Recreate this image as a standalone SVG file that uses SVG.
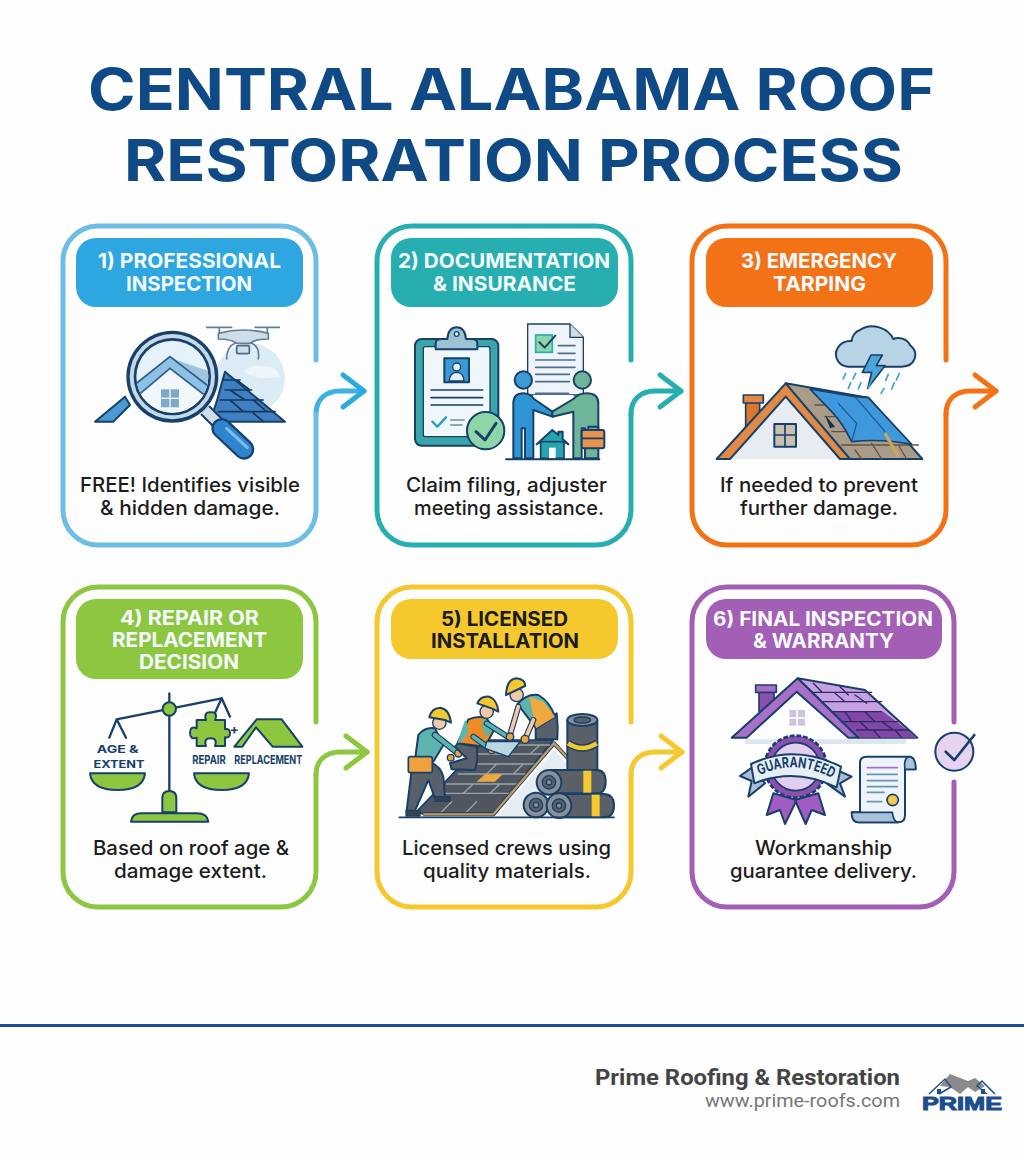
<svg xmlns="http://www.w3.org/2000/svg" width="1024" height="1154" viewBox="0 0 1024 1154">
<style>
.title{font-family:"Inter","Liberation Sans",sans-serif;font-weight:700;font-size:58px;fill:#0f4a87;text-anchor:middle}
.hd{font-family:"Inter","Liberation Sans",sans-serif;font-weight:700;font-size:20.5px;fill:#f4fbff;text-anchor:middle}
.hs{font-size:19.5px}
.bd{font-family:"Inter","Liberation Sans",sans-serif;font-weight:500;font-size:20px;fill:#1c1c1c;text-anchor:middle}
.card{fill:none;stroke-width:5;stroke-linecap:round}
.conn{fill:none;stroke-width:5;stroke-linecap:round}
.n{stroke:#17406b;stroke-width:6;stroke-linejoin:round;stroke-linecap:round}
.l{fill:none;stroke:#17406b;stroke-width:5;stroke-linecap:round;stroke-linejoin:round}
.lab{font-family:"Inter","Liberation Sans",sans-serif;font-weight:700;fill:#17406b;text-anchor:middle}
</style>
<defs>
<marker id="a1" markerUnits="userSpaceOnUse" viewBox="-26 -20 30 40" refX="0" refY="0" markerWidth="30" markerHeight="40" orient="auto"><path d="M-21,-16 L0,0 L-21,16" fill="none" stroke="#29abe2" stroke-width="5" stroke-linecap="round" stroke-linejoin="round"/></marker>
<marker id="a2" markerUnits="userSpaceOnUse" viewBox="-26 -20 30 40" refX="0" refY="0" markerWidth="30" markerHeight="40" orient="auto"><path d="M-21,-16 L0,0 L-21,16" fill="none" stroke="#26aeb0" stroke-width="5" stroke-linecap="round" stroke-linejoin="round"/></marker>
<marker id="a3" markerUnits="userSpaceOnUse" viewBox="-26 -20 30 40" refX="0" refY="0" markerWidth="30" markerHeight="40" orient="auto"><path d="M-21,-16 L0,0 L-21,16" fill="none" stroke="#f47216" stroke-width="5" stroke-linecap="round" stroke-linejoin="round"/></marker>
<marker id="a4" markerUnits="userSpaceOnUse" viewBox="-26 -20 30 40" refX="0" refY="0" markerWidth="30" markerHeight="40" orient="auto"><path d="M-21,-16 L0,0 L-21,16" fill="none" stroke="#8dc63f" stroke-width="5" stroke-linecap="round" stroke-linejoin="round"/></marker>
<marker id="a5" markerUnits="userSpaceOnUse" viewBox="-26 -20 30 40" refX="0" refY="0" markerWidth="30" markerHeight="40" orient="auto"><path d="M-21,-16 L0,0 L-21,16" fill="none" stroke="#f5c92e" stroke-width="5" stroke-linecap="round" stroke-linejoin="round"/></marker>
<clipPath id="lens"><circle cx="367" cy="485" r="108"/></clipPath>
<path id="banner" d="M215,590 Q330,530 450,600"/>
</defs>
<rect width="1024" height="1154" fill="#fefefe"/>
<g id="title">
<text class="title" x="511.5" y="110" textLength="847" lengthAdjust="spacingAndGlyphs">CENTRAL ALABAMA ROOF</text>
<text class="title" x="513.5" y="181" textLength="779" lengthAdjust="spacingAndGlyphs">RESTORATION PROCESS</text>
</g>

<g id="connectors">
<path class="conn" stroke="#3fb0e4" d="M316,414 C316,400 325,391 340,391 H364" marker-end="url(#a1)"/>
<path class="conn" stroke="#26aeb0" d="M631,414 C631,400 640,391 655,391 H681" marker-end="url(#a2)"/>
<path class="conn" stroke="#f47216" d="M946,414 C946,400 955,391 970,391 H996" marker-end="url(#a3)"/>
<path class="conn" stroke="#8dc63f" d="M316,775 C316,761 325,752 340,752 H367" marker-end="url(#a4)"/>
<path class="conn" stroke="#f5c92e" d="M631,775 C631,761 640,752 655,752 H682" marker-end="url(#a5)"/>
</g>

<g id="node1">
<path class="card" stroke="#6dbde6" d="M316,360 V261 A35,35 0 0 0 281,226 H98 A35,35 0 0 0 63,261 V510 A35,35 0 0 0 98,545 H281 A35,35 0 0 0 316,510 V414"/>
<rect x="76" y="238" width="227" height="69" rx="20" fill="#2ea6e0"/>
<text class="hd" x="189.5" y="268" textLength="183" lengthAdjust="spacingAndGlyphs">1) PROFESSIONAL</text>
<text class="hd" x="189" y="291" textLength="126" lengthAdjust="spacingAndGlyphs">INSPECTION</text>
<g transform="translate(50 215) scale(.33333)">
<circle cx="600" cy="490" r="105" fill="#dcecf6"/>
<path d="M580,470 q30,-25 60,-15 q40,-5 50,30 q-60,15 -110,-15z" fill="#eef6fb"/>
<g class="l" style="stroke:#5f7f99;stroke-width:5"><path d="M470,337 H545 M615,337 H688 M508,337 V370 M652,337 V370 M530,432 Q530,395 555,385 M625,432 Q630,395 605,385"/></g>
<path d="M505,355 Q580,335 655,355 L655,372 Q615,372 600,385 H560 Q545,372 505,372Z" fill="#cfdde8" stroke="#5f7f99" stroke-width="5"/>
<rect x="560" y="392" width="38" height="24" rx="5" fill="#cfdde8" stroke="#4a6a85" stroke-width="5"/>
<path d="M525,470 L705,620 H480 L500,560Z" fill="#3f7fc1" class="n"/>
<path d="M520,495 H570 M525,525 H605 M510,555 H640 M505,590 H675 M560,495 L600,525 M540,525 L585,555 M610,555 L650,590 M540,555 L580,590 M605,590 L640,620" class="l" style="stroke:#12385f;stroke-width:5"/>
<path d="M135,620 L225,545 L240,570 L190,620Z" fill="#4a9ad4" class="n"/>
<path d="M465,585 L510,630" stroke="#17406b" stroke-width="40"/>
<path d="M465,585 L510,630" stroke="#cfdde8" stroke-width="28"/>
<path d="M515,640 L582,703" stroke="#17406b" stroke-width="62" stroke-linecap="round"/>
<path d="M515,640 L582,703" stroke="#2f84d0" stroke-width="48" stroke-linecap="round"/>
<path d="M530,640 L592,698" stroke="#79bdec" stroke-width="9" stroke-linecap="round"/>
<circle cx="367" cy="485" r="138" fill="#17406b"/>
<circle cx="367" cy="485" r="128" fill="#c5d8e6"/>
<circle cx="367" cy="485" r="116" fill="#17406b"/>
<circle cx="367" cy="485" r="108" fill="#e6f2fa"/>
<g clip-path="url(#lens)">
<path d="M270,530 L360,450 L460,530 V600 H270Z" fill="#f2f7fb"/>
<path d="M360,428 L480,470 L510,530 L440,500Z" fill="#9fc4de"/>
<path d="M240,520 L360,425 L490,525 L470,545 L360,460 L260,545Z" fill="#8ec1e4" stroke="#2a5f8f" stroke-width="5"/>
<rect x="333" y="523" width="25" height="25" fill="#7ea9c8"/><rect x="362" y="523" width="25" height="25" fill="#7ea9c8"/><rect x="333" y="552" width="25" height="25" fill="#7ea9c8"/><rect x="362" y="552" width="25" height="25" fill="#7ea9c8"/>
</g>
</g>
<text class="bd" x="190" y="492" textLength="220" lengthAdjust="spacingAndGlyphs">FREE! Identifies visible</text>
<text class="bd" x="190" y="515" textLength="180" lengthAdjust="spacingAndGlyphs">&amp; hidden damage.</text>
</g>

<g id="node2">
<path class="card" stroke="#26aeb0" d="M631,360 V261 A35,35 0 0 0 596,226 H412 A35,35 0 0 0 377,261 V510 A35,35 0 0 0 412,545 H596 A35,35 0 0 0 631,510 V414"/>
<rect x="391" y="238" width="227" height="69" rx="20" fill="#26aeb0"/>
<text class="hd" x="504" y="268" textLength="212" lengthAdjust="spacingAndGlyphs">2) DOCUMENTATION</text>
<text class="hd" x="504.5" y="291" textLength="143" lengthAdjust="spacingAndGlyphs">&amp; INSURANCE</text>
<g transform="translate(370 215) scale(.33333)">
<rect x="135" y="372" width="250" height="320" rx="20" fill="#3aa5ab" class="n"/>
<rect x="160" y="395" width="200" height="270" rx="6" fill="#f0f7fa" class="n" style="stroke-width:4"/>
<path d="M197,403 V385 Q197,372 215,372 H232 Q235,337 260,337 Q285,337 288,372 H305 Q322,372 322,385 V403Z" fill="#9cc3d4" class="n"/>
<circle cx="260" cy="357" r="7" fill="#f0f7fa" class="n" style="stroke-width:4"/>
<rect x="223" y="430" width="74" height="72" fill="#3a9ad4" class="n"/>
<circle cx="260" cy="456" r="12" fill="#dff0f8" stroke="#17406b" stroke-width="4"/>
<path d="M238,498 Q240,472 260,472 Q280,472 282,498Z" fill="#dff0f8" stroke="#17406b" stroke-width="4"/>
<path d="M183,525 H338 M183,548 H338 M183,570 H338" class="l"/>
<path d="M187,620 L202,635 L228,607" class="l" style="stroke:#2a9fc0;stroke-width:7"/>
<path d="M243,615 H282 M243,630 H275" class="l" style="stroke:#8aa9bd;stroke-width:6"/>
<circle cx="347" cy="647" r="56" fill="#8ed6a8" class="n"/>
<path d="M318,650 L345,675 L378,625" class="l" style="stroke-width:9"/>
<path d="M473,327 H600 L640,367 V540 H473Z" fill="#eef4f9" stroke="#17406b" stroke-width="4" stroke-linejoin="round"/>
<path d="M600,327 V367 H640" fill="#cfdde8" stroke="#17406b" stroke-width="4"/>
<rect x="497" y="360" width="50" height="52" fill="#8ed6a8" stroke="#26aeb0" stroke-width="5"/>
<path d="M508,382 L524,398 L556,362" class="l" style="stroke-width:6"/>
<path d="M565,392 H615 M565,415 H615 M497,435 H615 M497,457 H615 M497,478 H598 M497,500 H598 M497,535 H595" class="l" style="stroke:#4f6f8f;stroke-width:5"/>
<rect x="490" y="540" width="120" height="195" fill="#fefefe"/>
<circle cx="460" cy="495" r="26" fill="#3a9ad4" class="n"/>
<path d="M430,730 V565 Q430,535 460,535 Q480,535 492,552 L547,590 V605 L490,585 V730 H465 V640 H455 V730Z" fill="#2f95d4" class="n"/>
<circle cx="637" cy="495" r="26" fill="#6fb59a" class="n"/>
<path d="M685,730 V565 Q685,535 650,535 Q625,535 610,552 L547,590 V605 L610,590 V730 H635 V640 H645 V730Z" fill="#6fb59a" class="n"/>
<path d="M500,688 L547,645 L565,660 V650 H578 V672 L595,688" fill="#26a5ae" class="n"/>
<rect x="512" y="680" width="70" height="50" fill="#26a5ae" stroke="#17406b" stroke-width="5"/>
<rect x="537" y="698" width="20" height="32" fill="#fefefe"/>
<path d="M655,645 V635 H685 V645" fill="none" class="n"/>
<rect x="635" y="645" width="68" height="55" rx="6" fill="#e8924c" class="n"/>
<path d="M636,670 H702" class="l"/>
<path d="M408,733 H688" class="l" style="stroke-width:6"/>
</g>
<text class="bd" x="506.5" y="492" textLength="201" lengthAdjust="spacingAndGlyphs">Claim filing, adjuster</text>
<text class="bd" x="509" y="515" textLength="190" lengthAdjust="spacingAndGlyphs">meeting assistance.</text>
</g>

<g id="node3">
<path class="card" stroke="#f47216" d="M946,360 V261 A35,35 0 0 0 911,226 H727 A35,35 0 0 0 692,261 V510 A35,35 0 0 0 727,545 H911 A35,35 0 0 0 946,510 V414"/>
<rect x="706" y="238" width="227" height="69" rx="20" fill="#f47216"/>
<text class="hd" x="819" y="268" textLength="156" lengthAdjust="spacingAndGlyphs">3) EMERGENCY</text>
<text class="hd" x="819.5" y="291" textLength="93" lengthAdjust="spacingAndGlyphs">TARPING</text>
<g transform="translate(685 215) scale(.33333)">
<path d="M490,455 H650 C690,455 705,415 675,390 C665,370 640,365 625,372 C610,340 560,320 525,345 C510,350 500,365 500,378 C465,375 440,410 460,440 C468,450 478,455 490,455Z" fill="#b8d3e4" class="n"/>
<path d="M558,420 H592 L574,452 H600 L548,520 L560,472 H532Z" fill="#4aa7d8" class="n" style="stroke-width:5"/>
<path d="M482,475 L474,492 M512,475 L504,492 M497,503 L490,520 M528,503 L520,522 M610,478 L602,496 M643,475 L634,495 M628,503 L620,522 M597,520 L588,535 M558,500 L550,518" class="l" style="stroke:#3aa3d0;stroke-width:5"/>
<rect x="182" y="562" width="42" height="75" fill="#d9772e" class="n" style="stroke-width:5"/>
<rect x="175" y="540" width="60" height="24" fill="#e08a45" class="n" style="stroke-width:5"/>
<path d="M302,505 L550,548 L712,732 H470Z" fill="#a99c88" class="n"/>
<path d="M390,570 H460 M420,605 H520 M440,650 H570 M470,690 H700 M510,705 L530,732 M560,685 L590,732 M640,690 L665,732" class="l" style="stroke:#5f5445;stroke-width:4"/>
<path d="M375,522 L510,545 L550,548 L680,688 Q590,670 500,680 Q470,620 440,590Z" fill="#3f97dc" class="n" style="stroke-width:5"/>
<path d="M510,545 L600,650 M460,565 L515,625 L500,680" class="l" style="stroke:#1c5a92;stroke-width:4"/>
<path d="M420,600 L450,635 L435,640Z" fill="#17304a"/>
<path d="M600,655 L640,725" stroke="#c9a75a" stroke-width="10"/>
<path d="M135,732 L302,545 L465,732Z" fill="#e6ecf2"/>
<path d="M95,732 L302,505 L495,732 H465 L302,545 L135,732Z" fill="#e08a45" class="n"/>
<rect x="268" y="627" width="65" height="68" fill="#c9bfae" class="n"/>
<path d="M300,627 V695 M268,660 H333" class="l"/>
</g>
<text class="bd" x="819" y="492" textLength="198" lengthAdjust="spacingAndGlyphs">If needed to prevent</text>
<text class="bd" x="819" y="515" textLength="158" lengthAdjust="spacingAndGlyphs">further damage.</text>
</g>

<g id="node4">
<path class="card" stroke="#8dc63f" d="M316,722 V622 A35,35 0 0 0 281,587 H98 A35,35 0 0 0 63,622 V872 A35,35 0 0 0 98,907 H281 A35,35 0 0 0 316,872 V775"/>
<rect x="76" y="599" width="227" height="80" rx="20" fill="#8dc63f"/>
<text class="hd hs" x="189.5" y="625" textLength="139" lengthAdjust="spacingAndGlyphs">4) REPAIR OR</text>
<text class="hd hs" x="189.5" y="647" textLength="155" lengthAdjust="spacingAndGlyphs">REPLACEMENT</text>
<text class="hd hs" x="189" y="669" textLength="100" lengthAdjust="spacingAndGlyphs">DECISION</text>
<g transform="translate(50 580) scale(.33333)">
<path d="M358,340 V640 M200,418 L515,355 M200,418 L178,473 M200,418 L228,473 M515,355 L540,410 M515,355 L495,398" class="l" style="stroke-width:7"/>
<circle cx="358" cy="387" r="20" fill="#8dc63f" class="n"/>
<text class="lab" x="203" y="520" font-size="33" textLength="125" lengthAdjust="spacingAndGlyphs">AGE &amp;</text>
<text class="lab" x="207" y="563" font-size="33" textLength="153" lengthAdjust="spacingAndGlyphs">EXTENT</text>
<path d="M120,580 H285 Q280,630 203,630 Q125,630 120,580Z" fill="#8dc63f" class="n"/>
<path d="M432,580 H597 Q592,630 515,630 Q437,630 432,580Z" fill="#8dc63f" class="n"/>
<path d="M337,697 V655 Q337,633 358,633 Q379,633 379,655 V697Z" fill="#8dc63f" class="n"/>
<path d="M243,725 Q245,700 275,700 H440 Q472,700 475,725Z" fill="#8dc63f" class="n"/>
<path d="M440,420 H468 Q460,395 482,397 Q505,395 495,420 H525 V447 Q540,445 540,460 Q540,475 525,472 V498 H495 Q503,475 482,475 Q460,475 468,498 H440 V473 Q420,480 420,458 Q420,437 440,445Z" fill="#8dc63f" class="n"/>
<text class="lab" x="553" y="462" font-size="40">+</text>
<text class="lab" x="477" y="552" font-size="36" textLength="100" lengthAdjust="spacingAndGlyphs">REPAIR</text>
<text class="lab" x="655" y="552" font-size="36" textLength="204" lengthAdjust="spacingAndGlyphs">REPLACEMENT</text>
<path d="M553,500 L620,418 H695 L757,500 H668 L618,442 L577,500Z" fill="#8dc63f" class="n"/>
</g>
<text class="bd" x="191" y="855" textLength="196" lengthAdjust="spacingAndGlyphs">Based on roof age &amp;</text>
<text class="bd" x="190.5" y="878" textLength="153" lengthAdjust="spacingAndGlyphs">damage extent.</text>
</g>

<g id="node5">
<path class="card" stroke="#f5c92e" d="M631,722 V622 A35,35 0 0 0 596,587 H412 A35,35 0 0 0 377,622 V872 A35,35 0 0 0 412,907 H596 A35,35 0 0 0 631,872 V775"/>
<rect x="391" y="599" width="227" height="60" rx="20" fill="#f5c92e"/>
<text class="hd hs" x="504.5" y="626" textLength="127" lengthAdjust="spacingAndGlyphs" style="fill:#1b1b1b">5) LICENSED</text>
<text class="hd hs" x="505" y="648" textLength="148" lengthAdjust="spacingAndGlyphs" style="fill:#1b1b1b">INSTALLATION</text>
<g transform="translate(370 580) scale(.33333)">
<path d="M380,708 L552,510 L600,560 V708Z" fill="#e6eef4"/>
<path d="M140,695 L345,480 H550 L370,703 H160Z" fill="#4f5660" class="n" style="stroke-width:5"/>
<path d="M190,640 H420 M230,612 H445 M265,582 H470 M295,552 H495 M325,522 H520 M360,495 H540 M215,695 L245,665 M290,695 L320,665 M360,640 L390,612 M280,640 L310,612 M350,582 L380,552 M430,582 L460,552 M400,522 L430,495 M480,522 L510,495" class="l" style="stroke:#9aa3ab;stroke-width:4"/>
<path d="M320,605 L345,583 H398 L375,605Z" fill="#f0a93f"/>
<path d="M160,703 H370 L552,490 L592,533" fill="none" stroke="#17406b" stroke-width="12" stroke-linejoin="round"/>
<path d="M160,703 H370 L552,490 L592,533" fill="none" stroke="#c59a5c" stroke-width="7" stroke-linejoin="round"/>
<rect x="592" y="420" width="90" height="155" fill="#5a6068" class="n"/>
<ellipse cx="637" cy="420" rx="45" ry="18" fill="#8a9097" class="n"/>
<ellipse cx="637" cy="420" rx="25" ry="9" fill="#5a6068" class="n" style="stroke-width:4"/>
<path d="M594,490 Q637,518 680,490" fill="none" stroke="#17406b" stroke-width="22"/>
<path d="M594,490 Q637,518 680,490" fill="none" stroke="#f5c92e" stroke-width="14"/>
<circle cx="498" cy="675" r="37" fill="#8a9097" class="n"/><circle cx="498" cy="675" r="20" fill="#5a6068" class="n" style="stroke-width:4"/><circle cx="498" cy="675" r="8" fill="#8a9097" class="n" style="stroke-width:4"/>
<path d="M537,570 H680 Q707,570 707,605 Q707,640 680,640 H537Z" fill="#5a6068" class="n"/>
<rect x="640" y="572" width="24" height="66" fill="#f5c92e"/>
<circle cx="537" cy="607" r="37" fill="#8a9097" class="n"/><circle cx="537" cy="607" r="20" fill="#5a6068" class="n" style="stroke-width:4"/><circle cx="537" cy="607" r="8" fill="#8a9097" class="n" style="stroke-width:4"/>
<path d="M567,642 H700 Q732,642 732,677 Q732,712 700,712 H567Z" fill="#5a6068" class="n"/>
<rect x="665" y="644" width="24" height="66" fill="#f5c92e"/>
<circle cx="567" cy="677" r="37" fill="#8a9097" class="n"/><circle cx="567" cy="677" r="20" fill="#5a6068" class="n" style="stroke-width:4"/><circle cx="567" cy="677" r="8" fill="#8a9097" class="n" style="stroke-width:4"/>
<path d="M88,712 H732" class="l" style="stroke-width:5"/>
<path d="M125,570 L110,692 H135 L175,600 L195,655 H225 L220,590 Q210,555 175,545Z" fill="#58606a" class="n"/>
<path d="M108,692 H150 V708 H108Z M195,650 H240 V664 H195Z" fill="#39414b" class="n" style="stroke-width:4"/>
<path d="M135,540 L145,465 Q165,440 195,445 L220,495 L190,545Z" fill="#5fb3ad" class="n"/>
<path d="M195,465 L262,518" stroke="#17406b" stroke-width="20" stroke-linecap="round"/><path d="M195,465 L262,518" stroke="#5fb3ad" stroke-width="13" stroke-linecap="round"/>
<rect x="115" y="530" width="72" height="48" rx="6" fill="#eda23d" class="n" style="stroke-width:5"/>
<circle cx="265" cy="520" r="11" fill="#eda23d" class="n" style="stroke-width:4"/><circle cx="242" cy="533" r="10" fill="#eda23d" class="n" style="stroke-width:4"/>
<circle cx="208" cy="428" r="20" fill="#f1c9a5" class="n" style="stroke-width:4"/>
<path d="M178,412 Q185,383 212,383 Q238,388 243,428 L225,420 Z" fill="#f5c92e" class="n"/>
<path d="M265,490 L320,500 Q325,540 315,570 L245,568 L240,550 L290,535 L255,500Z" fill="#58606a" class="n"/>
<path d="M262,490 L295,418 Q325,405 350,415 L372,450 L345,500Z" fill="#f08a24" class="n"/>
<path d="M290,425 Q305,470 262,490 L285,420Z" fill="#5fb3ad"/><path d="M345,415 L372,450 L345,470 L335,430Z" fill="#5fb3ad"/>
<path d="M350,430 L415,472 M310,470 L365,510" stroke="#17406b" stroke-width="18" stroke-linecap="round"/>
<path d="M350,430 L415,472 M310,470 L365,510" stroke="#5fb3ad" stroke-width="11" stroke-linecap="round"/>
<circle cx="420" cy="472" r="11" fill="#eda23d" class="n" style="stroke-width:4"/><circle cx="365" cy="510" r="11" fill="#eda23d" class="n" style="stroke-width:4"/>
<circle cx="350" cy="395" r="20" fill="#f1c9a5" class="n" style="stroke-width:4"/>
<path d="M322,370 Q332,347 358,350 Q382,360 385,395 L365,385 Z" fill="#f5c92e" class="n"/>
<path d="M350,485 L450,485 L415,530 L345,505Z" fill="#bcd7e4" stroke="#17406b" stroke-width="4"/>
<path d="M497,478 V440 L560,400 Q565,440 562,478Z" fill="#58606a" class="n"/>
<path d="M443,372 Q470,340 505,345 Q540,365 555,410 L498,445Z" fill="#5fb3ad" class="n"/>
<path d="M478,350 L498,445 L555,410 L520,365Z" fill="#f0a93f"/>
<path d="M445,380 L420,465 M490,420 L465,478" stroke="#17406b" stroke-width="18" stroke-linecap="round"/>
<path d="M445,380 L420,465 M490,420 L465,478" stroke="#f1c9a5" stroke-width="11" stroke-linecap="round"/>
<circle cx="420" cy="470" r="11" fill="#eda23d" class="n" style="stroke-width:4"/><circle cx="465" cy="478" r="12" fill="#eda23d" class="n" style="stroke-width:4"/>
<circle cx="440" cy="345" r="20" fill="#f1c9a5" class="n" style="stroke-width:4"/>
<path d="M408,345 Q410,297 440,295 Q468,300 465,318 Z" fill="#f5c92e" class="n"/>
</g>
<text class="bd" x="506.5" y="855" textLength="209" lengthAdjust="spacingAndGlyphs">Licensed crews using</text>
<text class="bd" x="507" y="878" textLength="168" lengthAdjust="spacingAndGlyphs">quality materials.</text>
</g>

<g id="node6">
<path class="card" stroke="#a35fb5" d="M954,722 V622 A35,35 0 0 0 919,587 H727 A35,35 0 0 0 692,622 V872 A35,35 0 0 0 727,907 H919 A35,35 0 0 0 954,872 V782"/>
<rect x="706" y="599" width="236" height="60" rx="20" fill="#a35fb5"/>
<text class="hd hs" x="823" y="626" textLength="220" lengthAdjust="spacingAndGlyphs">6) FINAL INSPECTION</text>
<text class="hd hs" x="823.5" y="648" textLength="141" lengthAdjust="spacingAndGlyphs">&amp; WARRANTY</text>
<g transform="translate(685 580) scale(.33333)">
<path d="M180,478 H662 V492 H180Z" fill="#dbe6ee"/>
<rect x="313" y="390" width="21" height="21" fill="#cfc3e0"/><rect x="339" y="390" width="21" height="21" fill="#cfc3e0"/><rect x="313" y="416" width="21" height="21" fill="#cfc3e0"/><rect x="339" y="416" width="21" height="21" fill="#cfc3e0"/>
<rect x="222" y="335" width="45" height="60" fill="#8a4fb0" class="n" style="stroke-width:5"/>
<rect x="212" y="315" width="62" height="22" fill="#a86fc8" class="n" style="stroke-width:5"/>
<path d="M338,295 L540,330 L697,473 H520 Z" fill="#c7a0e2" class="n"/>
<path d="M430,395 L595,395 L697,473 H520Z" fill="#8245a8"/>
<path d="M385,310 L410,335 M465,320 L490,345 M385,337 H560 M400,365 H590 M445,395 H590 M460,425 H640 M515,450 H670 M450,340 L480,365 M510,345 L545,370 M480,395 L500,425 M540,395 L570,425 M525,425 L550,450 M590,425 L625,450 M565,450 L585,473 M630,450 L650,473" class="l" style="stroke:#2c2b63;stroke-width:4"/>
<path d="M140,473 L338,295 L520,473 H490 L335,335 L185,473Z" fill="#a86fc8" class="n"/>
<circle cx="332" cy="560" r="93" fill="#8a4fb0" stroke="#17406b" stroke-width="8" stroke-dasharray="14 6"/>
<circle cx="332" cy="560" r="72" fill="#e3cdf0" stroke="#17406b" stroke-width="5"/>
<path d="M265,640 L245,705 L285,690 L300,732 L335,660Z" fill="#a05cc0" class="n"/>
<path d="M400,640 L420,705 L380,690 L362,732 L330,660Z" fill="#a05cc0" class="n"/>
<path d="M205,560 L165,588 L200,603 L190,650 L240,610Z" fill="#a9bed3" class="n"/>
<path d="M455,570 L500,590 L465,610 L480,650 L425,610Z" fill="#a9bed3" class="n"/>
<path d="M198,552 Q330,490 468,560 L455,622 Q330,560 208,610Z" fill="#e7eff6" class="n"/>
<text class="lab" font-size="44"><textPath href="#banner" startOffset="50%" textLength="228" lengthAdjust="spacingAndGlyphs">GUARANTEED</textPath></text>
<path d="M525,697 V548 Q525,530 545,530 H672 Q692,530 692,568 H660 V705 Q660,727 640,727 H520 Q500,727 500,697Z" fill="#eef4f9" class="n"/>
<path d="M672,530 Q655,535 660,568 H692 Q692,530 672,530Z" fill="#a9c2d8" class="n" style="stroke-width:5"/>
<path d="M500,697 H622 Q625,725 640,727 H520 Q500,727 500,697Z" fill="#a9c2d8" class="n" style="stroke-width:5"/>
<path d="M547,563 H637" class="l" style="stroke:#a86fc8"/>
<path d="M547,583 H637 M547,602 H637 M547,620 H637 M547,637 H597 M547,665 H590" class="l" style="stroke:#6a95ad"/>
<circle cx="623" cy="660" r="17" fill="#f5c84a" class="n" style="stroke-width:5"/>
<circle cx="808" cy="515" r="57" fill="#e6d3f0" class="n"/>
<path d="M782,515 L808,540 L868,465" class="l" style="stroke-width:8"/>
</g>
<text class="bd" x="823.5" y="855" textLength="137" lengthAdjust="spacingAndGlyphs">Workmanship</text>
<text class="bd" x="823.5" y="878" textLength="187" lengthAdjust="spacingAndGlyphs">guarantee delivery.</text>
</g>

<g id="footer">
<rect x="0" y="1024" width="1024" height="3" fill="#1c4e8f"/>
<text x="900" y="1085" font-family="Roboto,'Liberation Sans',sans-serif" font-weight="700" font-size="22" fill="#444" text-anchor="end" textLength="305" lengthAdjust="spacingAndGlyphs">Prime Roofing &amp; Restoration</text>
<text x="900" y="1107" font-family="Roboto,'Liberation Sans',sans-serif" font-weight="400" font-size="18" fill="#777" text-anchor="end" textLength="195" lengthAdjust="spacingAndGlyphs">www.prime-roofs.com</text>
<g id="logo">
<path d="M940,1086 L950,1074 L968,1081 L975,1078 L985,1086 L975,1092 L968,1087 L960,1094 L950,1087Z" fill="#8a8a8a"/>
<path d="M929,1094 L945,1079 L951,1087 L939,1094 M995,1094 L982,1081 L977,1086 L987,1094" fill="none" stroke="#1c4e8f" stroke-width="1.5"/>
<rect x="937" y="1089" width="4" height="5" fill="#1c4e8f"/><rect x="981" y="1089" width="4" height="5" fill="#1c4e8f"/>
<text x="962" y="1110" font-family="'Liberation Sans',sans-serif" font-weight="700" font-size="18" fill="#1c4e8f" text-anchor="middle" textLength="80" lengthAdjust="spacingAndGlyphs" stroke="#1c4e8f" stroke-width="1">PRIME</text>
</g>
</g>
</svg>
